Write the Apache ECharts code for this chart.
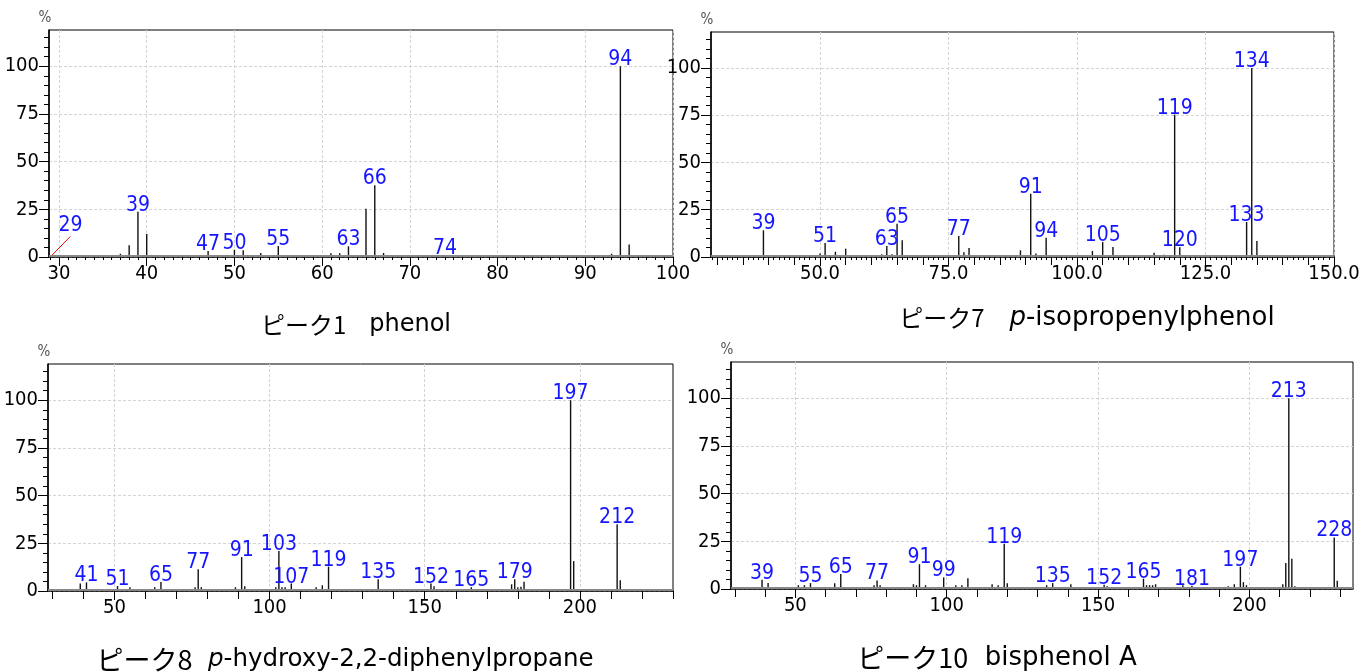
<!DOCTYPE html>
<html>
<head>
<meta charset="utf-8">
<script src="https://cdn.jsdelivr.net/npm/echarts@6/dist/echarts.min.js"></script>
<style>
  html, body { margin: 0; background: #fff; }
  #chart { width: 1364px; height: 672px; }
</style>
</head>
<body>
<div id="chart"></div>
<script>
// ピーク1 phenol
const p1Mz  = [37, 38, 39, 40, 47, 50, 51, 53, 55, 61, 62, 63, 65, 66, 67, 74, 93, 94, 95];
const p1Int = [1.7, 6.1, 23.7, 12, 3.1, 3.8, 3.5, 2.1, 5.8, 2, 2, 5.6, 25.3, 37.6, 2.1, 1, 1.7, 100, 6.5];
const p1Labeled = [39, 47, 50, 55, 63, 66, 74, 94];
const p1Leader = [[29, 0], [31.3, 10.8]]; // red leader line for the tiny m/z 29 peak
const p1XLabels = [30, 40, 50, 60, 70, 80, 90, 100];

// ピーク7 p-isopropenylphenol
const p2Mz  = [38, 39, 40, 41, 50, 51, 52, 53, 55, 62, 63, 64, 65, 66, 67, 75, 77, 78, 79, 89,
               91, 92, 94, 103, 105, 107, 115, 117, 118, 119, 120, 133, 134, 135];
const p2Int = [1, 14.1, 1, 1, 1.8, 7.4, 1, 2.8, 4.4, 1.4, 5.8, 1.4, 17.6, 8.8, 1, 1, 11.1, 2.5, 4.8, 3.5,
               33.5, 1.8, 10.2, 3.2, 7.9, 5.3, 2.3, 1.2, 1, 75.3, 5.1, 18.5, 100, 8.5];
const p2Labeled = [39, 51, 63, 65, 77, 91, 94, 105, 119, 120, 133, 134];
const p2XLabels = [50, 75, 100, 125, 150];

// ピーク8 p-hydroxy-2,2-diphenylpropane
const p3Mz  = [39, 41, 51, 55, 63, 65, 76, 77, 78, 89, 91, 92, 102, 103, 104, 105, 107, 115, 117, 119,
               135, 152, 153, 165, 178, 179, 180, 181, 182, 197, 198, 212, 213];
const p3Int = [3.9, 4.5, 2.6, 2, 2, 4.7, 2, 11.4, 2, 2, 17.8, 2.5, 2, 21, 2, 2, 3.9, 2, 3, 12.8,
               6.1, 3.9, 2.5, 2, 3.5, 6.1, 2, 2.2, 4.9, 100, 15.7, 35, 5.6];
const p3Labeled = [41, 51, 65, 77, 91, 103, 107, 119, 135, 152, 165, 179, 197, 212];
const p3XLabels = [50, 100, 150, 200];

// ピーク10 bisphenol A
const p4Mz  = [39, 41, 51, 53, 55, 63, 65, 76, 77, 78, 89, 90, 91, 93, 99, 103, 105, 107, 115, 117,
               119, 120, 133, 135, 141, 152, 153, 165, 166, 167, 168, 169, 178, 181, 193, 195, 197, 198, 199, 211,
               212, 213, 214, 215, 228, 229];
const p4Int = [4.9, 3.1, 2, 2, 3.1, 3, 7.8, 2, 4.5, 2, 2.5, 2, 13, 2, 6.1, 2, 2, 5.7, 2.5, 2,
               23.7, 3, 2, 3.1, 2.5, 2.2, 1.5, 5.4, 2, 2, 2, 2.5, 2, 1.7, 1.5, 2.5, 11.7, 3.6, 2, 2.5,
               13.6, 100, 15.8, 1.5, 27, 4.3];
const p4Labeled = [39, 55, 65, 77, 91, 99, 119, 135, 152, 165, 181, 197, 213, 228];
const p4XLabels = [50, 100, 150, 200];

const yLabels = [0, 25, 50, 75, 100];

const narrow = "'Liberation Sans Narrow','Arial Narrow','DejaVu Sans Condensed','Liberation Sans',sans-serif";
const blue = '#1515ff';

function range(a, b, step) {
  const out = [];
  for (let v = a; v <= b + 1e-9; v += step) out.push(v);
  return out;
}

const panels = [
  { mz: p1Mz, val: p1Int, labeled: p1Labeled, xLabels: p1XLabels, fmt: v => String(v),
    major: range(30, 100, 10), minor: range(29, 100, 1), xMin: 28.86, xMax: 100,
    rect: { left: 49, top: 30, width: 624, height: 227 } },
  { mz: p2Mz, val: p2Int, labeled: p2Labeled, xLabels: p2XLabels, fmt: v => v.toFixed(1),
    major: range(30, 150, 5), minor: range(29, 150, 1), xMin: 28.8, xMax: 150,
    rect: { left: 711, top: 32, width: 623, height: 225 } },
  { mz: p3Mz, val: p3Int, labeled: p3Labeled, xLabels: p3XLabels, fmt: v => String(v),
    major: range(30, 230, 10), minor: [], xMin: 28.6, xMax: 230,
    rect: { left: 48, top: 364, width: 625, height: 227 } },
  { mz: p4Mz, val: p4Int, labeled: p4Labeled, xLabels: p4XLabels, fmt: v => String(v),
    major: range(30, 230, 10), minor: [], xMin: 28.75, xMax: 234.2,
    rect: { left: 731, top: 362, width: 622, height: 227 } }
];

const grid = [], xAxis = [], yAxis = [], series = [];

panels.forEach((p, i) => {
  grid.push(Object.assign({ show: true, borderColor: '#000', borderWidth: 1 }, p.rect));

  const xBase = { type: 'value', gridIndex: i, min: p.xMin, max: p.xMax, position: 'bottom' };
  // labelled axis: line, long ticks, labels, grid lines
  xAxis.push(Object.assign({}, xBase, {
    axisLine: { show: true, lineStyle: { color: '#000', width: 1.5 } },
    axisTick: { show: true, customValues: p.xLabels, length: 9, lineStyle: { color: '#000' } },
    axisLabel: { show: true, customValues: p.xLabels, formatter: p.fmt, margin: 7,
                 fontSize: 20, fontFamily: narrow, color: '#000' },
    splitLine: { show: true, lineStyle: { color: '#d4d4d4', type: [3, 2] } }
  }));
  // medium ticks
  xAxis.push(Object.assign({}, xBase, {
    axisLine: { show: false },
    axisTick: { show: true, customValues: p.major, length: 8, lineStyle: { color: '#000' } },
    axisLabel: { show: false }, splitLine: { show: false }
  }));
  // small ticks
  xAxis.push(Object.assign({}, xBase, {
    axisLine: { show: false },
    axisTick: { show: p.minor.length > 0, customValues: p.minor.length ? p.minor : [p.xMin],
                length: 3, lineStyle: { color: '#000' } },
    axisLabel: { show: false }, splitLine: { show: false }
  }));

  const yBase = { type: 'value', gridIndex: i, min: 0, max: 119, position: 'left' };
  yAxis.push(Object.assign({}, yBase, {
    name: '%', nameLocation: 'end', nameGap: 4,
    nameTextStyle: { fontSize: 15, color: '#555', fontFamily: narrow, padding: [0, 8, 0, 0] },
    axisLine: { show: true, lineStyle: { color: '#000', width: 1.5 } },
    axisTick: { show: true, customValues: yLabels, length: 10, lineStyle: { color: '#000' } },
    axisLabel: { show: true, customValues: yLabels, margin: 10,
                 fontSize: 20, fontFamily: narrow, color: '#000' },
    splitLine: { show: true, lineStyle: { color: '#d4d4d4', type: [3, 2] } }
  }));
  yAxis.push(Object.assign({}, yBase, {
    axisLine: { show: false },
    axisTick: { show: true, customValues: range(5, 115, 5), length: 5, lineStyle: { color: '#000' } },
    axisLabel: { show: false }, splitLine: { show: false }
  }));

  series.push({
    type: 'bar', xAxisIndex: 3 * i, yAxisIndex: 2 * i, barWidth: 1.4, silent: true,
    itemStyle: { color: '#111' },
    label: { position: 'top', distance: -4, color: blue, fontSize: 21, fontFamily: narrow,
             formatter: q => q.value[0] },
    data: p.mz.map((m, k) => ({ value: [m, p.val[k]], label: { show: p.labeled.includes(m) } })),
    markLine: {
      silent: true, symbol: 'none', label: { show: false },
      lineStyle: { color: '#888', width: 2, type: 'solid' },
      data: [{ yAxis: 0.8 }]
    }
  });
});

// leader line and label for m/z 29 in panel 1
series.push({
  type: 'line', xAxisIndex: 0, yAxisIndex: 0, silent: true,
  lineStyle: { color: '#ff0000', width: 1 }, symbol: 'circle', symbolSize: 0, showSymbol: true,
  data: p1Leader.map((d, k) => ({
    value: d,
    label: { show: k === 1, position: 'top', distance: 0, color: blue, fontSize: 21,
             fontFamily: narrow, formatter: '29' }
  }))
});

const latinFont = "'DejaVu Sans','Liberation Sans',sans-serif";
function caption(x, y, id, name, italicPrefix, kanaSize, latinSize, gap) {
  const text = '{a|ピーク' + id + '}' + '{s|' + gap + '}' +
               (italicPrefix ? '{i|' + italicPrefix + '}' : '') + '{b|' + name + '}';
  return {
    type: 'text', x: x, y: y, silent: true,
    style: {
      text: text, align: 'center', verticalAlign: 'middle',
      fontSize: latinSize, fill: '#000', fontFamily: latinFont,
      rich: {
        a: { fontSize: kanaSize, fontFamily: "'Noto Sans CJK JP',sans-serif", fill: '#000' },
        s: { fontSize: latinSize, fontFamily: latinFont },
        i: { fontSize: latinSize, fontStyle: 'italic', fontFamily: latinFont, fill: '#000' },
        b: { fontSize: latinSize, fontFamily: latinFont, fill: '#000' }
      }
    }
  };
}

const chart = echarts.init(document.getElementById('chart'), null, { renderer: 'canvas' });
chart.setOption({
  animation: false,
  backgroundColor: '#fff',
  grid: grid,
  xAxis: xAxis,
  yAxis: yAxis,
  series: series,
  graphic: [
    caption(356, 325, '1', 'phenol', '', 24, 24, '   '),
    caption(1087, 318, '7', '-isopropenylphenol', 'p', 24, 26, '   '),
    caption(345, 660, '8', '-hydroxy-2,2-diphenylpropane', 'p', 27, 24.5, '  '),
    caption(997, 658, '10', 'bisphenol A', '', 27, 26, '  ')
  ]
});
</script>
</body>
</html>
